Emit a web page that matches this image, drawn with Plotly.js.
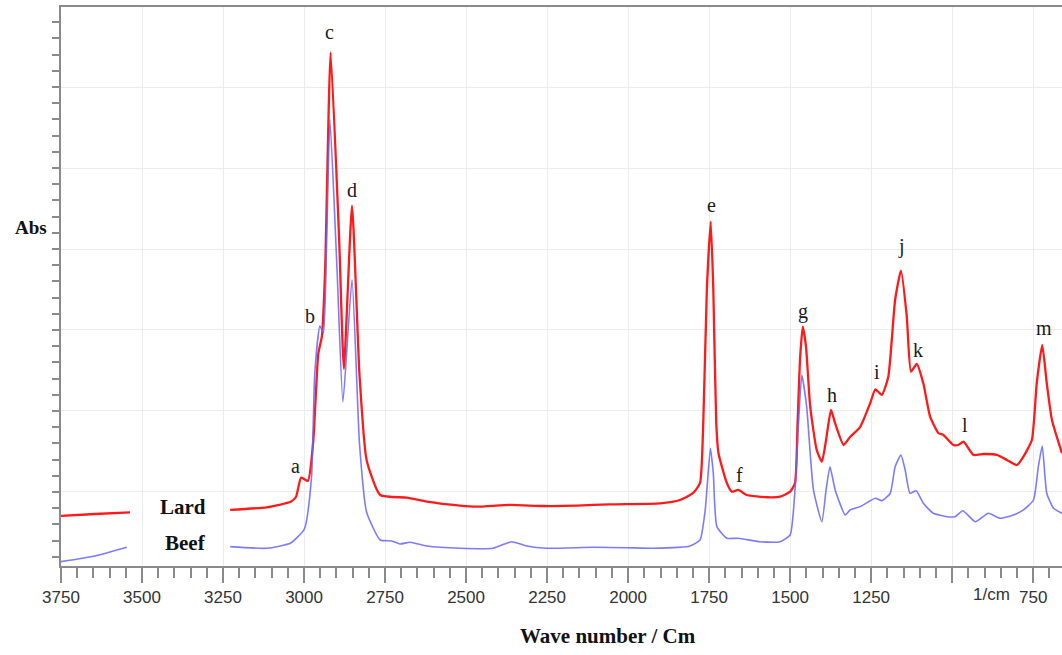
<!DOCTYPE html>
<html><head><meta charset="utf-8">
<script src="https://cdn.plot.ly/plotly-3.0.1.min.js"></script>
<style>html,body{margin:0;padding:0;background:#fff}#chart{width:1062px;height:655px}</style>
</head><body><div id="chart"></div>
<script>
// Wavenumbers (1/cm) and absorbance (arbitrary units, offset spectra)
const lardWave = [3750,3645,3537,null,3228,3115,3041,3025,3009,2988,2972,2956,2945,2935,2918,2892,2877,2852,2829,2807,2765,2683,2621,2519,2467,2364,2262,2158,2056,1901,1840,1799,1778,1768,1757,1745,1737,1728,1721,1695,1680,1660,1634,1572,1531,1500,1485,1477,1469,1461,1451,1438,1418,1402,1389,1374,1361,1335,1315,1284,1253,1237,1217,1197,1176,1158,1140,1127,1109,1089,1068,1042,1027,996,981,965,934,903,862,831,800,780,754,739,722,708,692,661];
const lardAbs = [-0.0296,-0.0272,-0.0251,null,-0.0222,-0.0189,-0.0121,-0.0062,0.0177,0.0136,0.0605,0.1707,0.1920,0.2728,0.5427,0.3153,0.1519,0.3536,0.1457,0.0395,-0.0037,-0.0070,-0.0120,-0.0169,-0.0181,-0.0160,-0.0173,-0.0169,-0.0152,-0.0140,-0.0099,-0.0012,0.0111,0.0852,0.2494,0.3337,0.2494,0.0852,0.0478,0.0107,0.0004,0.0025,-0.0037,-0.0065,-0.0058,0.0004,0.0107,0.0852,0.1670,0.2041,0.1794,0.1053,0.0519,0.0374,0.0642,0.1012,0.0848,0.0580,0.0679,0.0802,0.1095,0.1268,0.1198,0.1423,0.2370,0.2732,0.2164,0.1485,0.1580,0.1342,0.0930,0.0725,0.0704,0.0580,0.0580,0.0621,0.0457,0.0469,0.0457,0.0395,0.0333,0.0436,0.0642,0.1342,0.1815,0.1342,0.0889,0.0478];
const beefWave = [3750,3645,3547,null,3228,3115,3041,2999,2977,2967,2951,2940,2930,2920,2898,2880,2852,2829,2807,2765,2729,2704,2673,2621,2519,2417,2359,2313,2251,2108,2004,1923,1809,1778,1762,1746,1737,1726,1695,1660,1593,1531,1500,1485,1474,1464,1449,1428,1402,1389,1377,1361,1330,1315,1284,1237,1217,1191,1176,1158,1145,1130,1111,1089,1058,1016,991,967,929,888,852,811,780,749,734,722,708,687,661];
const beefAbs = [-0.0860,-0.0790,-0.0683,null,-0.0675,-0.0695,-0.0630,-0.0457,0.0177,0.1457,0.2049,0.1963,0.3153,0.4599,0.2728,0.1111,0.2621,0.0605,-0.0247,-0.0593,-0.0605,-0.0642,-0.0621,-0.0667,-0.0695,-0.0695,-0.0614,-0.0667,-0.0695,-0.0683,-0.0688,-0.0695,-0.0667,-0.0593,-0.0222,0.0540,0.0231,-0.0428,-0.0572,-0.0572,-0.0614,-0.0614,-0.0531,0.0025,0.0848,0.1444,0.1053,0.0025,-0.0367,0.0025,0.0312,0.0025,-0.0284,-0.0222,-0.0181,-0.0078,-0.0107,-0.0016,0.0312,0.0457,0.0272,-0.0016,0.0016,-0.0140,-0.0263,-0.0305,-0.0305,-0.0231,-0.0367,-0.0263,-0.0325,-0.0284,-0.0222,-0.0099,0.0312,0.0568,-0.0016,-0.0201,-0.0263];

// Peak letter labels
const peakLetters = ['a','b','c','d','e','f','g','h','i','j','k','l','m'];
const peakWave = [3025,2983,2920,2852,1744,1656,1461,1371,1232,1155,1104,960,718];
const peakLabelAbs = [0.0326,0.2175,0.5683,0.3728,0.3543,0.0210,0.2226,0.1198,0.1485,0.3028,0.1753,0.0827,0.2021];

// Axis ticks
const xTickVals = [3750,3500,3250,3000,2750,2500,2250,2000,1750,1500,1250,1000,750];
const xTickText = ['3750','3500','3250','3000','2750','2500','2250','2000','1750','1500','1250','','750'];

const seriesNames = ['Lard','Beef'];

const traces = [
  {x: lardWave, y: lardAbs, name: seriesNames[0], mode: 'lines', type: 'scatter',
   line: {color: '#ff1a1a', width: 2.3, shape: 'spline', smoothing: 0.5}, connectgaps: false, hoverinfo: 'skip'},
  {x: beefWave, y: beefAbs, name: seriesNames[1], mode: 'lines', type: 'scatter',
   line: {color: 'rgba(100,100,255,0.85)', width: 1.6, shape: 'spline', smoothing: 0.5}, connectgaps: false, hoverinfo: 'skip'}
];

const serif = 'Liberation Serif, Times New Roman, serif';
const annotations = peakLetters.map((t, i) => ({
  x: peakWave[i], y: peakLabelAbs[i], xref: 'x', yref: 'y', text: t, showarrow: false,
  font: {family: serif, size: 20, color: '#1a1a1a'}, xanchor: 'center', yanchor: 'middle'
}));
annotations.push(
  {x: 3375, y: -0.0185, xref: 'x', yref: 'y', text: '<b>Lard</b>', showarrow: false,
   font: {family: serif, size: 21, color: '#111'}},
  {x: 3367, y: -0.063, xref: 'x', yref: 'y', text: '<b>Beef</b>', showarrow: false,
   font: {family: serif, size: 21, color: '#111'}},
  {x: -0.030, y: 0.6047, xref: 'paper', yref: 'paper', text: '<b>Abs</b>', showarrow: false,
   font: {family: serif, size: 19, color: '#111'}, xanchor: 'center', yanchor: 'middle'},
  {x: 2062, y: -0.1252, xref: 'x', yref: 'paper', text: '<b>Wave number / Cm</b>', showarrow: false,
   font: {family: serif, size: 21, color: '#111'}, xanchor: 'center', yanchor: 'middle'},
  {x: 880, y: -0.0501, xref: 'x', yref: 'paper', text: '1/cm', showarrow: false,
   font: {family: 'Liberation Sans, Arial, sans-serif', size: 17, color: '#333'}, xanchor: 'center', yanchor: 'middle'}
);

const axisColor = '#8a8a8a';
const layout = {
  width: 1062, height: 655,
  margin: {l: 61, r: 0, t: 7, b: 89, pad: 0},
  paper_bgcolor: '#ffffff', plot_bgcolor: '#ffffff',
  showlegend: false,
  xaxis: {
    range: [3750, 661], autorange: false,
    tickmode: 'array', tickvals: xTickVals, ticktext: xTickText,
    ticks: 'outside', ticklen: 15, tickwidth: 2, tickcolor: axisColor,
    minor: {tickmode: 'linear', tick0: 750, dtick: 50, ticks: 'outside', ticklen: 10, tickwidth: 2, tickcolor: axisColor, showgrid: false},
    showgrid: true, gridcolor: '#ececec', gridwidth: 1,
    showline: true, linecolor: axisColor, linewidth: 2, mirror: true,
    zeroline: false,
    tickfont: {family: 'Liberation Sans, Arial, sans-serif', size: 17, color: '#333'}
  },
  yaxis: {
    range: [-0.0914, 0.5988], autorange: false,
    tickmode: 'linear', tick0: 0, dtick: 0.1,
    ticks: 'outside', ticklen: 7, tickwidth: 2, tickcolor: axisColor,
    minor: {tickmode: 'linear', tick0: 0, dtick: 0.02, ticks: 'outside', ticklen: 7, tickwidth: 2, tickcolor: axisColor, showgrid: false},
    showticklabels: false,
    showgrid: true, gridcolor: '#ececec', gridwidth: 1,
    showline: true, linecolor: axisColor, linewidth: 2,
    zeroline: false
  },
  yaxis2: {
    overlaying: 'y', anchor: 'x', side: 'left',
    range: [-0.0914, 0.5988], autorange: false,
    tickmode: 'array', tickvals: [0, 0.5],
    ticks: 'outside', ticklen: 16, tickwidth: 2, tickcolor: axisColor,
    showticklabels: false, showgrid: false, showline: false, zeroline: false
  },
  annotations: annotations
};

Plotly.newPlot('chart', traces, layout, {staticPlot: true, displayModeBar: false});
</script>
</body></html>
